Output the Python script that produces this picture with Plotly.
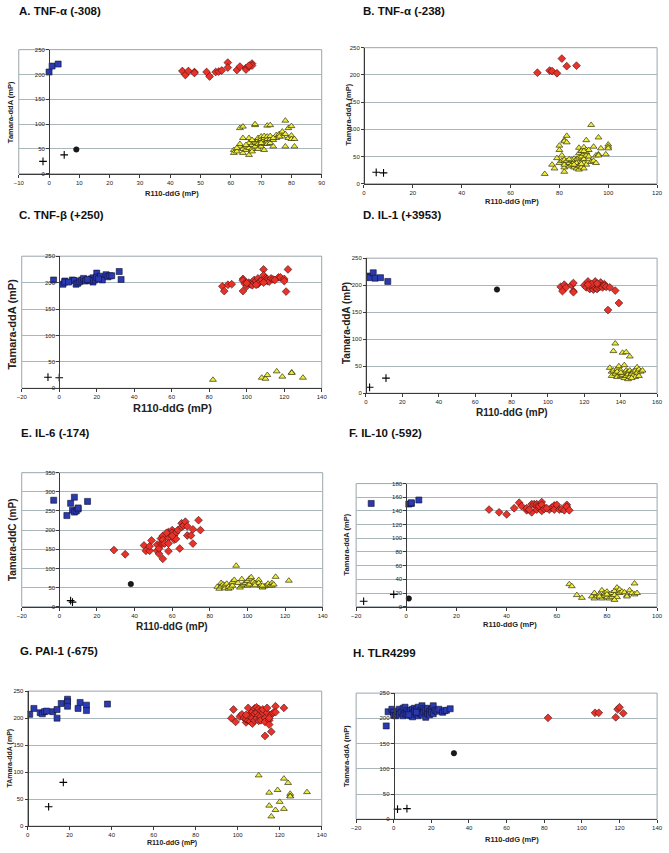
import plotly.graph_objects as go

# ---------------- DATA ----------------
# Panel A. TNF-a (-308)
A_sq_x = [0, 1, 3]
A_sq_y = [205, 217, 221]
A_dia_x = [44, 45, 46, 48, 48, 52, 53, 55, 56, 57, 59, 59, 62, 63, 65, 65, 66, 67, 67, 66]
A_dia_y = [207, 199, 207, 205, 203, 205, 196, 205, 206, 208, 224, 214, 209, 216, 213, 210, 216, 222, 218, 218]
A_tri_x = [61, 61, 62, 63, 63, 63, 64, 64, 64, 64, 65, 65, 66, 66, 66, 66, 67, 67, 67, 68, 68, 68, 68, 68,
           69, 69, 69, 69, 70, 70, 70, 70, 71, 71, 71, 71, 71, 72, 72, 72, 72, 72, 73, 73, 73, 73, 74, 74,
           75, 75, 76, 77, 77, 78, 78, 78, 79, 79, 80, 80, 80, 81, 81, 65, 67, 70, 62, 74, 76]
A_tri_y = [48, 42, 45, 55, 60, 92, 95, 72, 50, 42, 48, 55, 38, 52, 62, 72, 50, 58, 45, 55, 62, 65, 98, 100,
           60, 68, 72, 50, 65, 70, 75, 55, 60, 68, 72, 48, 76, 65, 70, 75, 60, 97, 70, 76, 62, 98, 68, 55,
           72, 78, 80, 85, 75, 107, 80, 55, 92, 72, 96, 77, 70, 55, 70, 58, 68, 62, 52, 72, 75]
A_cir_x = [9]
A_cir_y = [49]
A_crs_x = [-2, 5]
A_crs_y = [25, 38]

# Panel B. TNF-a (-238)
B_dia_x = [71, 76, 77, 79, 81, 83, 87]
B_dia_y = [204, 208, 207, 203, 230, 216, 217]
B_tri_x = [74, 77, 78, 79, 80, 80, 80, 81, 81, 82, 82, 82, 82, 82, 82, 83, 83, 83, 84, 84, 85, 85, 86, 86,
           86, 87, 87, 87, 87, 88, 88, 88, 88, 88, 89, 89, 89, 89, 90, 90, 90, 90, 90, 91, 91, 91, 91, 91,
           92, 92, 93, 93, 94, 94, 95, 95, 96, 96, 96, 97, 99, 100, 100, 100, 85, 92, 89, 86, 84, 90]
B_tri_y = [18, 35, 28, 47, 70, 62, 38, 52, 42, 80, 78, 22, 30, 35, 44, 88, 76, 42, 32, 38, 42, 35, 40, 46,
           30, 28, 34, 38, 45, 66, 56, 48, 32, 26, 40, 50, 60, 30, 67, 55, 45, 38, 28, 80, 62, 52, 35, 58,
           62, 45, 108, 40, 68, 42, 38, 52, 85, 54, 52, 65, 54, 72, 68, 65, 44, 50, 36, 35, 45, 60]
B_crs_x = [5, 8]
B_crs_y = [21, 20]

# Panel C. TNF-b (+250)
C_sq_x = [-3, 2, 3, 3, 7, 8, 9, 10, 11, 12, 13, 14, 17, 18, 18, 19, 20, 20, 22, 23, 25, 26, 27, 28, 32, 33,
          16, 15, 5, 21]
C_sq_y = [205, 197, 203, 201, 205, 204, 197, 199, 202, 205, 208, 203, 207, 209, 201, 205, 218, 210, 212, 205,
          215, 211, 213, 213, 221, 206, 204, 206, 201, 207]
C_dia_x = [87, 88, 90, 92, 98, 98, 98, 99, 100, 101, 102, 103, 103, 104, 104, 105, 106, 106, 107, 108, 109,
           109, 110, 110, 111, 111, 112, 113, 114, 117, 118, 120, 120, 121, 122, 100, 105, 109, 115]
C_dia_y = [193, 184, 196, 197, 207, 204, 184, 198, 193, 200, 197, 201, 195, 200, 205, 203, 197, 208, 202, 205,
           225, 214, 208, 204, 207, 203, 202, 208, 206, 210, 210, 207, 203, 183, 225, 199, 196, 200, 205]
C_tri_x = [82, 108, 110, 111, 116, 119, 124, 124, 130]
C_tri_y = [16, 20, 18, 25, 32, 22, 30, 29, 20]
C_crs_x = [-6, 0]
C_crs_y = [21, 20]

# Panel D. IL-1 (+3953)
D_sq_x = [2, 2, 4, 5, 8, 12]
D_sq_y = [217, 214, 223, 213, 214, 207]
D_dia_x = [107, 108, 109, 110, 113, 114, 114, 114, 120, 121, 122, 123, 123, 124, 125, 125, 126, 126, 126,
           127, 127, 128, 128, 129, 129, 130, 130, 131, 131, 132, 134, 137, 139, 133, 124, 127, 122]
D_dia_y = [197, 189, 201, 196, 200, 204, 189, 187, 200, 196, 207, 199, 193, 197, 192, 201, 205, 207, 195,
           199, 193, 200, 196, 205, 198, 199, 196, 202, 199, 197, 196, 190, 167, 154, 202, 203, 201]
D_tri_x = [134, 135, 135, 136, 136, 137, 137, 138, 138, 139, 139, 140, 140, 141, 141, 142, 142, 142, 143,
           143, 143, 144, 144, 144, 145, 145, 145, 146, 146, 147, 147, 148, 148, 149, 149, 150, 150, 151,
           152, 138, 140, 146]
D_tri_y = [47, 32, 40, 78, 42, 92, 36, 45, 30, 50, 38, 42, 32, 34, 75, 52, 38, 28, 76, 42, 32, 40, 26, 35,
           68, 42, 30, 38, 36, 33, 40, 30, 42, 48, 38, 44, 32, 40, 42, 40, 38, 28]
D_cir_x = [72]
D_cir_y = [192]
D_crs_x = [2, 11]
D_crs_y = [11, 28]

# Panel E. IL-6 (-174)
E_sq_x = [-3, 4, 6, 7, 8, 8, 9, 10, 10, 15]
E_sq_y = [278, 238, 270, 252, 286, 247, 250, 255, 258, 275]
E_dia_x = [29, 35, 45, 46, 48, 48, 49, 52, 52, 53, 53, 54, 54, 55, 55, 55, 55, 56, 58, 58, 58, 58, 59, 60,
           60, 61, 61, 62, 62, 63, 64, 65, 65, 66, 67, 68, 68, 70, 71, 71, 74, 75, 57, 60]
E_dia_y = [148, 137, 160, 146, 146, 158, 173, 146, 162, 138, 152, 165, 178, 185, 125, 165, 175, 165, 195,
           180, 165, 145, 190, 200, 193, 175, 187, 193, 177, 200, 152, 218, 208, 212, 222, 210, 186, 186,
           202, 165, 226, 200, 193, 185]
E_tri_x = [84, 85, 86, 86, 87, 88, 88, 89, 90, 90, 91, 92, 92, 93, 94, 95, 96, 97, 97, 98, 99, 100, 100,
           101, 101, 102, 103, 104, 105, 106, 106, 107, 108, 109, 110, 111, 112, 113, 113, 114, 115, 122,
           108, 104]
E_tri_y = [52, 47, 62, 53, 58, 48, 56, 60, 47, 52, 50, 55, 65, 70, 107, 62, 50, 72, 55, 58, 62, 55, 67,
           58, 73, 77, 65, 62, 58, 70, 62, 55, 50, 53, 55, 60, 55, 62, 55, 58, 78, 68, 55, 56]
E_cir_x = [38]
E_cir_y = [59]
E_crs_x = [6, 7]
E_crs_y = [16, 12]

# Panel F. IL-10 (-592)
F_sq_x = [-14, 1, 2, 2, 5]
F_sq_y = [151, 150, 151, 152, 156]
F_dia_x = [33, 37, 40, 43, 45, 46, 48, 48, 50, 50, 51, 52, 52, 52, 53, 53, 54, 54, 54, 55, 57, 58, 59, 59,
           60, 61, 62, 63, 64, 64, 65, 49, 56]
F_dia_y = [142, 138, 135, 144, 152, 147, 141, 144, 138, 150, 150, 150, 146, 142, 144, 147, 153, 149, 140,
           143, 142, 145, 148, 142, 149, 142, 143, 141, 149, 146, 141, 142, 144]
F_tri_x = [65, 66, 68, 70, 74, 75, 75, 76, 77, 78, 78, 79, 79, 80, 80, 81, 81, 82, 82, 83, 83, 84, 84, 85,
           85, 86, 87, 88, 88, 89, 90, 91, 91, 92, 77, 80, 83]
F_tri_y = [33, 30, 17, 13, 15, 20, 12, 15, 18, 24, 12, 20, 16, 22, 14, 18, 12, 20, 14, 23, 17, 28, 14, 25,
           20, 22, 21, 17, 15, 24, 20, 34, 18, 20, 15, 18, 10]
F_cir_x = [1]
F_cir_y = [12]
F_crs_x = [-17, -5]
F_crs_y = [8, 18]

# Panel G. PAI-1 (-675)
G_sq_x = [1, 3, 6, 7, 8, 9, 12, 14, 14, 16, 19, 19, 19, 24, 25, 28, 28, 38]
G_sq_y = [207, 218, 210, 208, 212, 213, 212, 216, 200, 227, 235, 230, 222, 218, 229, 224, 214, 226]
G_dia_x = [97, 98, 99, 101, 102, 103, 104, 104, 105, 105, 106, 106, 106, 107, 107, 107, 108, 108, 108, 109,
           109, 109, 110, 110, 110, 111, 111, 111, 112, 112, 113, 113, 113, 114, 114, 115, 115, 116, 116,
           117, 118, 118, 122, 104, 115]
G_dia_y = [200, 216, 193, 203, 207, 200, 192, 198, 219, 196, 208, 202, 194, 190, 212, 200, 218, 208, 196,
           220, 210, 200, 217, 205, 195, 214, 203, 196, 210, 216, 200, 167, 193, 210, 219, 196, 188, 175,
           207, 210, 222, 211, 219, 206, 200]
G_tri_x = [110, 115, 115, 116, 118, 119, 120, 122, 122, 124, 125, 125, 125, 133]
G_tri_y = [94, 62, 38, 18, 30, 67, 45, 88, 32, 80, 60, 56, 55, 63]
G_crs_x = [10, 17]
G_crs_y = [36, 81]

# Panel H. TLR4299
H_sq_x = [-4, -3, -1, 0, 0, 1, 2, 3, 3, 4, 5, 5, 6, 6, 7, 7, 8, 9, 9, 10, 10, 10, 11, 11, 12, 12, 13, 13,
          14, 14, 15, 15, 16, 16, 17, 17, 18, 18, 19, 19, 20, 20, 21, 21, 22, 23, 24, 26, 27, 28, 30, 8, 12]
H_sq_y = [185, 213, 218, 212, 206, 205, 214, 218, 208, 212, 220, 205, 222, 210, 215, 208, 212, 216, 205, 218,
          210, 203, 220, 214, 208, 217, 222, 205, 215, 210, 225, 208, 219, 212, 202, 216, 210, 220, 214, 207,
          218, 212, 225, 209, 216, 214, 218, 212, 215, 216, 219, 207, 212]
H_dia_x = [82, 107, 109, 118, 119, 120, 122]
H_dia_y = [201, 211, 211, 202, 218, 222, 210]
H_cir_x = [32]
H_cir_y = [131]
H_crs_x = [2, 7]
H_crs_y = [20, 21]

# Titles and axis labels
panel_titles = ["A. TNF-\u03b1 (-308)", "B. TNF-\u03b1 (-238)", "C. TNF-\u03b2 (+250)", "D. IL-1 (+3953)",
                "E. IL-6 (-174)", "F. IL-10 (-592)", "G. PAI-1 (-675)", "H. TLR4299"]
x_titles = ["R110-ddG (mP)"] * 8
y_titles = ["Tamara-ddA (mP)", "Tamara-ddA (mP)", "Tamara-ddA (mP)", "Tamara-ddA (mP)",
            "Tamara-ddC (mP)", "Tamara-ddA (mP)", "TAmara-ddA (mP)", "Tamara-ddA (mP)"]
x_ranges = [(-10, 90, 10), (0, 120, 20), (-20, 140, 20), (0, 160, 20),
            (-20, 140, 20), (-20, 100, 20), (0, 140, 20), (-20, 140, 20)]
y_ranges = [(0, 250, 50), (0, 250, 50), (0, 250, 50), (0, 250, 50),
            (0, 350, 50), (0, 180, 20), (0, 250, 50), (0, 250, 50)]

panel_series = [
    dict(sq=(A_sq_x, A_sq_y), dia=(A_dia_x, A_dia_y), tri=(A_tri_x, A_tri_y), cir=(A_cir_x, A_cir_y), crs=(A_crs_x, A_crs_y)),
    dict(dia=(B_dia_x, B_dia_y), tri=(B_tri_x, B_tri_y), crs=(B_crs_x, B_crs_y)),
    dict(sq=(C_sq_x, C_sq_y), dia=(C_dia_x, C_dia_y), tri=(C_tri_x, C_tri_y), crs=(C_crs_x, C_crs_y)),
    dict(sq=(D_sq_x, D_sq_y), dia=(D_dia_x, D_dia_y), tri=(D_tri_x, D_tri_y), cir=(D_cir_x, D_cir_y), crs=(D_crs_x, D_crs_y)),
    dict(sq=(E_sq_x, E_sq_y), dia=(E_dia_x, E_dia_y), tri=(E_tri_x, E_tri_y), cir=(E_cir_x, E_cir_y), crs=(E_crs_x, E_crs_y)),
    dict(sq=(F_sq_x, F_sq_y), dia=(F_dia_x, F_dia_y), tri=(F_tri_x, F_tri_y), cir=(F_cir_x, F_cir_y), crs=(F_crs_x, F_crs_y)),
    dict(sq=(G_sq_x, G_sq_y), dia=(G_dia_x, G_dia_y), tri=(G_tri_x, G_tri_y), crs=(G_crs_x, G_crs_y)),
    dict(sq=(H_sq_x, H_sq_y), dia=(H_dia_x, H_dia_y), cir=(H_cir_x, H_cir_y), crs=(H_crs_x, H_crs_y)),
]

# ---------------- LAYOUT / STYLE ----------------
W, H = 669, 853
# plot-area boxes in pixels: (left, top, right, bottom)
boxes = [(14, 47, 322, 172), (365, 45, 663, 182), (17, 255, 322, 388), (367, 257, 663, 393),
         (17, 473, 323, 608), (357, 484, 663, 608), (23, 693, 322, 829), (357, 695, 663, 822)]
title_pos = [(12, 8), (362, 8), (12, 213), (362, 213), (14, 433), (348, 433), (13, 653), (352, 655)]
xt_pos = [(170, 192), (515, 200), (170, 408), (515, 412), (170, 628), (513, 626), (170, 846), (515, 842)]
yt_pos = [(5, 110), (349, 112), (7, 323), (347, 322), (7, 540), (347, 545), (5, 760), (347, 758)]
axis_title_size = [7.5, 7.5, 11, 10, 10, 7.5, 7, 7.5]

FONT = "Liberation Sans, Arial, sans-serif"
styles = {
    "sq": dict(symbol="square", size=6, color="#2a3ab0", line=dict(color="#101030", width=0.6)),
    "dia": dict(symbol="diamond", size=6, color="#e8322a", line=dict(color="#401010", width=0.6)),
    "tri": dict(symbol="triangle-up", size=6, color="#f0ee3a", line=dict(color="#303010", width=0.7)),
    "cir": dict(symbol="circle", size=5.5, color="#1a1a1a", line=dict(color="#000000", width=0.5)),
    "crs": dict(symbol="cross-thin", size=5.5, color="#000000", line=dict(color="#000000", width=1.1)),
}

fig = go.Figure()
annotations = []
shapes = []
layout_axes = {}

for i in range(8):
    n = i + 1
    xa = "x" if n == 1 else f"x{n}"
    ya = "y" if n == 1 else f"y{n}"
    l, t, r, b = boxes[i]
    xmin, xmax, xd = x_ranges[i]
    ymin, ymax, yd = y_ranges[i]
    for key, (xs, ys) in panel_series[i].items():
        st = styles[key]
        fig.add_trace(go.Scatter(x=xs, y=ys, mode="markers", xaxis=xa, yaxis=ya, showlegend=False,
                                 hoverinfo="skip",
                                 marker=dict(symbol=st["symbol"], size=st["size"], color=st["color"],
                                             line=st["line"])))
    dom_x = [l / W, r / W]
    dom_y = [1 - b / H, 1 - t / H]
    x0frac = (0 - xmin) / (xmax - xmin)
    ypos = dom_x[0] + x0frac * (dom_x[1] - dom_x[0])
    layout_axes["xaxis" if n == 1 else f"xaxis{n}"] = dict(
        domain=dom_x, anchor=ya, range=[xmin, xmax], dtick=xd, tick0=xmin,
        showgrid=False, zeroline=False, showline=True, linecolor="#3a3a3a", linewidth=1,
        ticks="outside", ticklen=3, tickcolor="#3a3a3a", tickwidth=1, ticklabeloverflow="allow",
        tickfont=dict(family=FONT, size=6, color="#222"))
    layout_axes["yaxis" if n == 1 else f"yaxis{n}"] = dict(
        domain=dom_y, anchor="free", position=ypos, range=[ymin, ymax], dtick=yd, tick0=0,
        showgrid=True, gridcolor="#a9b6bb", gridwidth=1, zeroline=False,
        showline=True, linecolor="#3a3a3a", linewidth=1,
        ticks="outside", ticklen=3, tickcolor="#3a3a3a", tickwidth=1,
        tickfont=dict(family=FONT, size=6, color="#222"))
    shapes.append(dict(type="rect", xref=f"{xa} domain", yref=f"{ya} domain", x0=0, x1=1, y0=0, y1=1,
                       line=dict(color="#9aa5aa", width=1), layer="below"))
    tx, ty = title_pos[i]
    annotations.append(dict(text=f"<b>{panel_titles[i]}</b>", x=tx / W, y=1 - ty / H, xref="paper", yref="paper",
                            xanchor="left", yanchor="middle", showarrow=False,
                            font=dict(family=FONT, size=11.5, color="#111")))
    xx, xy = xt_pos[i]
    annotations.append(dict(text=f"<b>{x_titles[i]}</b>", x=xx / W, y=1 - xy / H, xref="paper", yref="paper",
                            xanchor="center", yanchor="middle", showarrow=False,
                            font=dict(family=FONT, size=axis_title_size[i], color="#222")))
    yx, yy = yt_pos[i]
    annotations.append(dict(text=f"<b>{y_titles[i]}</b>", x=yx / W, y=1 - yy / H, xref="paper", yref="paper",
                            xanchor="center", yanchor="middle", showarrow=False, textangle=-90,
                            font=dict(family=FONT, size=axis_title_size[i], color="#222")))

fig.update_layout(width=W, height=H, margin=dict(l=0, r=0, t=0, b=0),
                  paper_bgcolor="white", plot_bgcolor="white", hovermode=False,
                  annotations=annotations, shapes=shapes, **layout_axes)

fig.write_html("out.html", config={"displayModeBar": False, "staticPlot": True},
               post_script="document.body.style.margin='0';document.body.style.overflow='hidden';")
